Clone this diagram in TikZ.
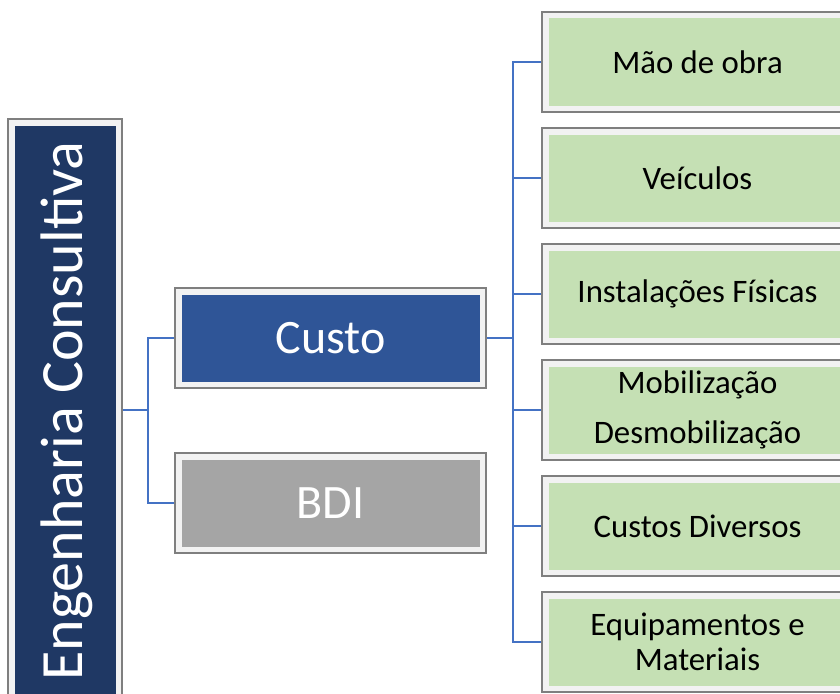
\documentclass[tikz,border=0pt]{standalone}
\usepackage{fontspec}
\setmainfont{Carlito}
\definecolor{navy}{HTML}{1F3864}
\definecolor{custoblue}{HTML}{2F5597}
\definecolor{bdigray}{HTML}{A5A5A5}
\definecolor{leafgreen}{HTML}{C5E0B4}
\definecolor{bandgray}{HTML}{F2F2F2}
\definecolor{bordergray}{HTML}{7F7F7F}
\definecolor{connblue}{HTML}{4472C4}
\begin{document}
\begin{tikzpicture}[x=1pt,y=-1pt,
  box/.style={draw=bordergray, line width=1.2pt, fill=bandgray, inner sep=0pt,
    path picture={\fill[#1] ([xshift=6.5pt,yshift=-6.5pt]path picture bounding box.north west)
      rectangle ([xshift=-6.5pt,yshift=6.5pt]path picture bounding box.south east);}},
  midbox/.style={box=#1, minimum width=311pt, minimum height=100pt,
    text=white, font=\fontsize{48}{57}\selectfont},
  leaf/.style={box=leafgreen, minimum width=311pt, minimum height=100pt,
    text=black, align=center, font=\fontsize{32.8}{35.5}\selectfont},
  conn/.style={draw=connblue, line width=1.9pt}]
\useasboundingbox (0,0) rectangle (840,693);
\clip (0,0) rectangle (840,693);
\fill[white] (0,0) rectangle (840,693);

% root
\node[box=navy, minimum width=114pt, minimum height=582pt] (eng) at (65,410) {};
\node[rotate=90, anchor=base, text=white, font=\fontsize{60}{72}\selectfont] (engtext) at (82,411) {Engenharia Consultiva};

% middle level
\node[midbox=custoblue] (custo) at (330.5,338) {Custo};
\node[midbox=bdigray] (bdi) at (330.5,503) {BDI};

% leaves
\node[leaf] (g1) at (697.5,62) {Mão de obra};
\node[leaf] (g2) at (697.5,178) {Veículos};
\node[leaf] (g3) at (697.5,294) {Instalações Físicas};
\node[leaf, font=\fontsize{32.8}{50.5}\selectfont] (g4) at (697.5,410) {Mobilização\\Desmobilização};
\node[leaf] (g5) at (697.5,526) {Custos Diversos};
\node[leaf] (g6) at (697.5,642) {Equipamentos e\\Materiais};

% connectors
\coordinate (jl) at (148,410);
\coordinate (jr) at (513,338);
\draw[conn] (eng.east) -- (jl);
\draw[conn] (custo.west) -| (jl);
\draw[conn] (bdi.west) -| (jl);
\draw[conn] (custo.east) -- (jr);
\foreach \g in {g1,g2,g3,g4,g5,g6}{
  \draw[conn] (\g.west) -| (jr);
}
\end{tikzpicture}
\end{document}
